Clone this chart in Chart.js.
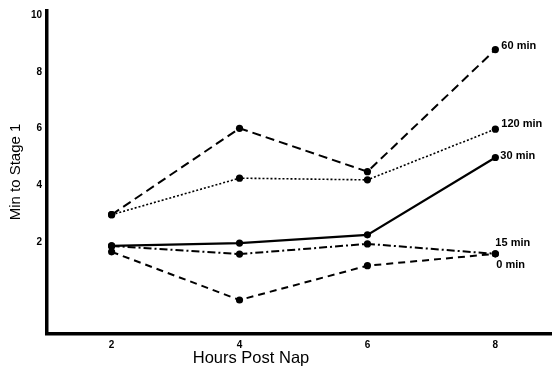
<!DOCTYPE html>
<html>
<head>
<meta charset="utf-8">
<script src="https://cdn.jsdelivr.net/npm/chart.js@4/dist/chart.umd.min.js"></script>
<style>
html,body{margin:0;padding:0;background:#fff;}
#wrap{width:555px;height:370px;}
</style>
</head>
<body>
<div id="wrap"><canvas id="c" width="555" height="370"></canvas></div>
<script>
// ---- data ----
const hours = [2, 4, 6, 8];
const min0   = [1.65, -0.05, 1.16, 1.58];
const min15  = [1.86, 1.57, 1.93, 1.58];
const min30  = [1.86, 1.96, 2.25, 4.98];
const min60  = [2.96, 6.01, 4.48, 8.79];
const min120 = [2.96, 4.25, 4.19, 5.98];
const seriesNames = ["0 min", "15 min", "30 min", "60 min", "120 min"];
const xTicks = [2, 4, 6, 8];
const yTicks = [2, 4, 6, 8, 10];
const xTitle = "Hours Post Nap";
const yTitle = "Min to Stage 1";

// ---- styles ----
const FONT = '"Liberation Sans", Arial, Helvetica, sans-serif';
const dashes = {
  "0 min":   [7, 5],
  "15 min":  [8, 3, 2, 3],
  "30 min":  [],
  "60 min":  [9, 5],
  "120 min": [2, 2]
};
const widths = {"0 min": 2, "15 min": 2, "30 min": 2.2, "60 min": 2, "120 min": 1.6};
const labelOffsets = {
  "0 min":   [1, 11],
  "15 min":  [0, -11],
  "30 min":  [5, -2],
  "60 min":  [6, -4],
  "120 min": [6, -5]
};

const valuesByName = {"0 min": min0, "15 min": min15, "30 min": min30, "60 min": min60, "120 min": min120};

const datasets = seriesNames.map(name => ({
  label: name,
  data: hours.map((h, i) => ({x: h, y: valuesByName[name][i]})),
  borderColor: '#000',
  backgroundColor: '#000',
  borderWidth: widths[name],
  borderDash: dashes[name],
  pointRadius: 3.6,
  pointBackgroundColor: '#000',
  pointBorderWidth: 0,
  tension: 0,
  fill: false
}));

const endLabels = {
  id: 'endLabels',
  afterDatasetsDraw(chart) {
    const ctx = chart.ctx;
    ctx.save();
    ctx.fillStyle = '#000';
    ctx.font = 'bold 11px ' + FONT;
    ctx.textBaseline = 'middle';
    ctx.textAlign = 'left';
    chart.data.datasets.forEach((ds, i) => {
      const meta = chart.getDatasetMeta(i);
      const last = meta.data[meta.data.length - 1];
      const off = labelOffsets[ds.label];
      ctx.fillText(ds.label, last.x + off[0], last.y + off[1]);
    });
    ctx.restore();
  }
};

const axisTitles = {
  id: 'axisTitles',
  afterDraw(chart) {
    const ctx = chart.ctx;
    ctx.save();
    ctx.fillStyle = '#000';
    ctx.textAlign = 'center';
    ctx.textBaseline = 'middle';
    ctx.font = '16.5px ' + FONT;
    ctx.fillText(xTitle, 251, 358);
    ctx.translate(16, 172);
    ctx.rotate(-Math.PI / 2);
    ctx.font = '15px ' + FONT;
    ctx.fillText(yTitle, 0, 0);
    ctx.restore();
  }
};

new Chart(document.getElementById('c'), {
  type: 'line',
  data: {datasets},
  options: {
    responsive: false,
    animation: false,
    devicePixelRatio: 1,
    layout: {padding: {left: 0, right: 0, top: 10, bottom: 0}},
    plugins: {legend: {display: false}, tooltip: {enabled: false}},
    scales: {
      x: {
        type: 'linear',
        min: 0.99,
        max: 8.87,
        afterBuildTicks: s => { s.ticks = xTicks.map(v => ({value: v})); },
        afterFit: s => { s.height = 36; },
        grid: {display: false, drawTicks: false},
        border: {display: true, color: '#000', width: 3.5},
        ticks: {
          color: '#000',
          padding: 5,
          font: {family: FONT, size: 10, weight: 'bold'},
          callback: v => String(v)
        },
        title: {display: false}
      },
      y: {
        type: 'linear',
        min: -1.25,
        max: 10.15,
        afterBuildTicks: s => { s.ticks = yTicks.map(v => ({value: v})); },
        afterFit: s => { s.width = 47; },
        grid: {display: false, drawTicks: false},
        border: {display: true, color: '#000', width: 3.5},
        ticks: {
          color: '#000',
          padding: 5,
          font: {family: FONT, size: 10, weight: 'bold'},
          callback: v => String(v)
        },
        title: {display: false}
      }
    }
  },
  plugins: [endLabels, axisTitles]
});
</script>
</body>
</html>
